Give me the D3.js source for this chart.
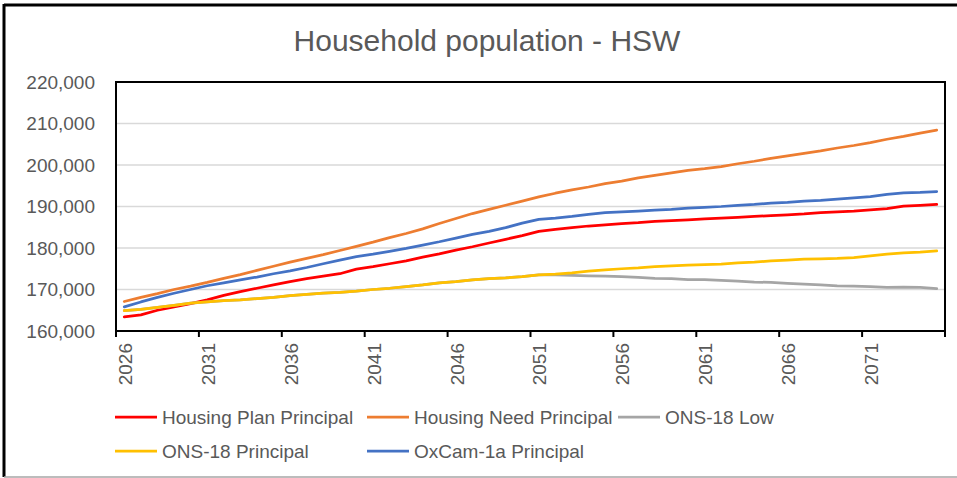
<!DOCTYPE html>
<html>
<head>
<meta charset="utf-8">
<script src="https://cdn.jsdelivr.net/npm/d3@7"></script>
<style>
  body { margin: 0; background: #fff; }
  svg { display: block; font-family: "Liberation Sans", Arial, sans-serif; }
</style>
</head>
<body>
<div id="chart"></div>
<script>
// data
const years = d3.range(2026, 2076);
const seriesNames = ["Housing Plan Principal", "Housing Need Principal", "ONS-18 Low", "ONS-18 Principal", "OxCam-1a Principal"];
const seriesColors = ["#ff0000", "#ed7d31", "#a5a5a5", "#ffc000", "#4472c4"];

const housingPlan = [163400, 163900, 165000, 165800, 166600, 167500, 168600, 169500, 170300, 171100,
  171900, 172600, 173200, 173800, 174900, 175500, 176200, 176900, 177800, 178600,
  179500, 180300, 181200, 182100, 183000, 184000, 184500, 184900, 185300, 185600,
  185900, 186100, 186400, 186600, 186800, 187000, 187200, 187400, 187600, 187800,
  188000, 188200, 188500, 188700, 188900, 189200, 189500, 190100, 190300, 190500];
const housingNeed = [167100, 168100, 169000, 170000, 170800, 171700, 172700, 173600, 174600, 175600,
  176600, 177500, 178400, 179400, 180400, 181400, 182500, 183500, 184600, 185900,
  187100, 188300, 189300, 190300, 191300, 192300, 193200, 194000, 194700, 195500,
  196100, 196900, 197500, 198100, 198700, 199100, 199600, 200300, 200900, 201600,
  202200, 202800, 203400, 204100, 204700, 205400, 206200, 206900, 207700, 208400];
const ons18Low = [164900, 165200, 165700, 166200, 166700, 167000, 167300, 167500, 167800, 168100,
  168500, 168800, 169100, 169300, 169600, 170000, 170300, 170700, 171100, 171600,
  171900, 172300, 172600, 172800, 173100, 173500, 173500, 173400, 173300, 173200,
  173100, 172900, 172700, 172600, 172400, 172400, 172200, 172000, 171800, 171700,
  171500, 171300, 171100, 170900, 170800, 170700, 170500, 170600, 170500, 170200];
const ons18Principal = [164900, 165200, 165700, 166200, 166700, 167000, 167300, 167500, 167800, 168100,
  168500, 168800, 169100, 169300, 169600, 170000, 170300, 170700, 171100, 171600,
  171900, 172300, 172600, 172800, 173100, 173500, 173700, 174000, 174400, 174700,
  175000, 175200, 175500, 175700, 175900, 176000, 176100, 176400, 176600, 176900,
  177100, 177300, 177400, 177500, 177700, 178100, 178500, 178800, 179000, 179300];
const oxCam = [165800, 167000, 168100, 169100, 170000, 170900, 171600, 172300, 173000, 173800,
  174500, 175300, 176200, 177100, 177900, 178500, 179200, 179900, 180700, 181500,
  182400, 183300, 184000, 184900, 186000, 186900, 187200, 187600, 188100, 188500,
  188700, 188900, 189100, 189300, 189600, 189800, 190000, 190300, 190500, 190800,
  191000, 191300, 191500, 191800, 192100, 192400, 192900, 193300, 193400, 193600];
const yTicks = [160000, 170000, 180000, 190000, 200000, 210000, 220000];
const xLabelYears = [2026, 2031, 2036, 2041, 2046, 2051, 2056, 2061, 2066, 2071];

const allSeries = [housingPlan, housingNeed, ons18Low, ons18Principal, oxCam];

// size
const w = 957, h = 478;
const padL = 116, padR = 945, padT = 82, padB = 331;

const svg = d3.select("#chart").append("svg")
  .attr("width", w).attr("height", h);

// outer frame
svg.append("line").attr("x1", 4).attr("x2", w).attr("y1", 5).attr("y2", 5)
  .attr("stroke", "#000").attr("stroke-width", 3);
svg.append("line").attr("x1", 4).attr("x2", 4).attr("y1", 4).attr("y2", 477)
  .attr("stroke", "#000").attr("stroke-width", 3);
svg.append("line").attr("x1", 4).attr("x2", w).attr("y1", 477).attr("y2", 477)
  .attr("stroke", "#a6a6a6").attr("stroke-width", 1.5);

// title
svg.append("text")
  .attr("x", 487).attr("y", 51)
  .attr("text-anchor", "middle")
  .attr("fill", "#595959")
  .style("font-size", "30px")
  .text("Household population - HSW");

// scales
const x = d3.scaleBand().domain(years).range([padL, padR]);
const y = d3.scaleLinear().domain([160000, 220000]).range([padB, padT]);
const cx = d => x(d) + x.bandwidth() / 2;

// gridlines
svg.append("g").selectAll("line")
  .data(yTicks.slice(1, -1))
  .enter().append("line")
  .attr("x1", padL).attr("x2", padR)
  .attr("y1", d => y(d)).attr("y2", d => y(d))
  .attr("stroke", "#d9d9d9").attr("stroke-width", 1.5);

// y labels
const yAxis = d3.axisLeft(y).tickValues(yTicks).tickSize(0).tickPadding(21)
  .tickFormat(d3.format(","));
const yg = svg.append("g").attr("transform", "translate(" + padL + ",0)").call(yAxis);
yg.select(".domain").remove();
yg.selectAll("text").attr("fill", "#595959").style("font-size", "19px")
  .style("font-family", "'Liberation Sans', Arial, sans-serif");

// lines
const line = d3.line().x((d, i) => cx(years[i])).y(d => y(d));
svg.append("g").selectAll("path")
  .data(allSeries)
  .enter().append("path")
  .attr("d", d => line(d))
  .attr("fill", "none")
  .attr("stroke", (d, i) => seriesColors[i])
  .attr("stroke-width", 2.75)
  .attr("stroke-linejoin", "round")
  .attr("stroke-linecap", "round");

// plot frame
svg.append("rect")
  .attr("x", padL).attr("y", padT)
  .attr("width", padR - padL).attr("height", padB - padT)
  .attr("fill", "none").attr("stroke", "#000").attr("stroke-width", 2);

// x ticks at band edges every 5 years, plus the end
const tickXs = xLabelYears.map(d => x(d)).concat([padR]);
svg.append("g").selectAll("line")
  .data(tickXs)
  .enter().append("line")
  .attr("x1", d => d).attr("x2", d => d)
  .attr("y1", padB).attr("y2", padB + 6)
  .attr("stroke", "#000").attr("stroke-width", 2);

// x labels
svg.append("g").selectAll("text")
  .data(xLabelYears)
  .enter().append("text")
  .attr("transform", d => "translate(" + (cx(d) + 1) + "," + 343 + ") rotate(-90)")
  .attr("text-anchor", "end")
  .attr("dy", "0.35em")
  .attr("fill", "#595959")
  .style("font-size", "19px")
  .text(d => d);

// legend
const legendPos = [[115, 417], [367, 417], [618, 417], [115, 451], [367, 451]];
const legend = svg.append("g").selectAll("g")
  .data(seriesNames)
  .enter().append("g")
  .attr("transform", (d, i) => "translate(" + legendPos[i][0] + "," + legendPos[i][1] + ")");
legend.append("line")
  .attr("x1", 0).attr("x2", 42).attr("y1", 0).attr("y2", 0)
  .attr("stroke", (d, i) => seriesColors[i]).attr("stroke-width", 2.75);
legend.append("text")
  .attr("x", 47).attr("dy", "0.35em")
  .attr("fill", "#595959")
  .style("font-size", "19px")
  .text(d => d);
</script>
</body>
</html>
